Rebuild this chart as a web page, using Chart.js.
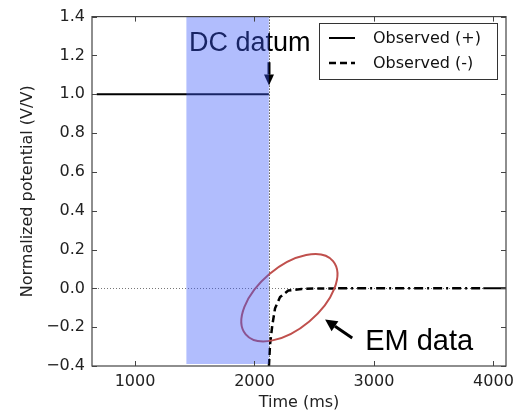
<!DOCTYPE html>
<html>
<head>
<meta charset="utf-8">
<script src="https://cdn.jsdelivr.net/npm/chart.js@4/dist/chart.umd.min.js"></script>
<style>
  html, body { margin: 0; padding: 0; background: #fff; }
  #wrap { width: 527px; height: 415px; }
</style>
</head>
<body>
<div id="wrap"><canvas id="chart" width="527" height="415"></canvas></div>
<script>
// observed (+): flat at 1.0 before the datum, back at 0.0 at the end
var posTime = [680, 2120, null, 3915, 4105];
var posValue = [1.0, 1.0, null, 0.0, 0.0];

// observed (-): the EM decay after the datum
var negTime = [2121, 2130, 2149, 2172, 2214, 2283, 2395, 2500, 2700, 3915];
var negValue = [-0.4, -0.29, -0.19, -0.103, -0.045, -0.011, -0.003, -0.001, 0.0, 0.0];

var seriesLabels = ["Observed (+)", "Observed (-)"];
var xTicks = [1000, 2000, 3000, 4000];
var yTicks = [-0.4, -0.2, 0.0, 0.2, 0.4, 0.6, 0.8, 1.0, 1.2, 1.4];
var xRange = [640, 4105];
var yRange = [-0.4, 1.4];
var shadeRange = [1430, 2120];
var datumTime = 2120;

// annotation anchors (data units)
var dcText = { x: 1960, y: 1.225, text: "DC datum" };
var dcArrow = { x: 2120, from: 1.165, to: 1.045 };
var emText = { x: 2926, y: -0.318, text: "EM data" };
var emArrow = { x0: 2818, y0: -0.256, x1: 2591, y1: -0.16 };
var emEllipse = { x: 2292, y: -0.048 };

function pts(xs, ys) {
  return xs.map(function (x, i) {
    return x === null ? { x: NaN, y: null } : { x: x, y: ys[i] };
  });
}

var FONT = "'DejaVu Sans', sans-serif";
var AXIS = "#444";

function arrow(ctx, x0, y0, x1, y1, head, width) {
  var ang = Math.atan2(y1 - y0, x1 - x0);
  var bx = x1 - Math.cos(ang) * head, by = y1 - Math.sin(ang) * head;
  ctx.beginPath();
  ctx.lineWidth = 3;
  ctx.moveTo(x0, y0);
  ctx.lineTo(bx, by);
  ctx.stroke();
  ctx.beginPath();
  ctx.moveTo(x1, y1);
  ctx.lineTo(bx + Math.sin(ang) * width, by - Math.cos(ang) * width);
  ctx.lineTo(bx - Math.sin(ang) * width, by + Math.cos(ang) * width);
  ctx.closePath();
  ctx.fill();
}

var decor = {
  id: "decor",
  beforeDatasetsDraw: function (chart) {
    var ctx = chart.ctx, a = chart.chartArea;
    var xs = chart.scales.x, ys = chart.scales.y;
    ctx.save();
    ctx.lineWidth = 1;
    ctx.setLineDash([1, 2]);
    ctx.strokeStyle = "#777";
    ctx.beginPath();
    ctx.moveTo(a.left, Math.round(ys.getPixelForValue(0)) + 0.5);
    ctx.lineTo(a.right, Math.round(ys.getPixelForValue(0)) + 0.5);
    ctx.stroke();
    ctx.strokeStyle = "#000";
    ctx.beginPath();
    var vx = Math.round(xs.getPixelForValue(datumTime)) + 0.5;
    ctx.moveTo(vx, a.top);
    ctx.lineTo(vx, a.bottom);
    ctx.stroke();
    ctx.restore();
  },
  afterDatasetsDraw: function (chart) {
    var ctx = chart.ctx, a = chart.chartArea;
    var xs = chart.scales.x, ys = chart.scales.y;
    ctx.save();
    // ellipse
    ctx.strokeStyle = "#c0504d";
    ctx.lineWidth = 2;
    ctx.beginPath();
    ctx.ellipse(xs.getPixelForValue(emEllipse.x), ys.getPixelForValue(emEllipse.y), 57, 31, -40 * Math.PI / 180, 0, Math.PI * 2);
    ctx.stroke();

    // texts
    ctx.fillStyle = "#000";
    ctx.strokeStyle = "#000";
    ctx.font = "27px 'Liberation Sans', Arial, sans-serif";
    ctx.textAlign = "center";
    ctx.textBaseline = "alphabetic";
    ctx.fillText(dcText.text, xs.getPixelForValue(dcText.x), ys.getPixelForValue(dcText.y));
    ctx.textAlign = "left";
    ctx.font = "29px 'Liberation Sans', Arial, sans-serif";
    ctx.fillText(emText.text, xs.getPixelForValue(emText.x), ys.getPixelForValue(emText.y));

    var ax = Math.round(xs.getPixelForValue(dcArrow.x));
    arrow(ctx, ax, ys.getPixelForValue(dcArrow.from), ax, ys.getPixelForValue(dcArrow.to), 11, 5);
    arrow(ctx, xs.getPixelForValue(emArrow.x0), ys.getPixelForValue(emArrow.y0),
      xs.getPixelForValue(emArrow.x1), ys.getPixelForValue(emArrow.y1), 12, 6);

    // shaded region on top
    ctx.fillStyle = "rgba(60, 90, 250, 0.4)";
    var s0 = xs.getPixelForValue(shadeRange[0]), s1 = xs.getPixelForValue(shadeRange[1]);
    ctx.fillRect(s0, a.top, s1 - s0, a.bottom - a.top - 2);

    // frame
    ctx.strokeStyle = AXIS;
    ctx.lineWidth = 1.2;
    ctx.setLineDash([]);
    ctx.strokeRect(a.left, a.top, a.right - a.left, a.bottom - a.top);

    // inward ticks on all sides
    ctx.lineWidth = 1;
    ctx.beginPath();
    xTicks.forEach(function (v) {
      var px = Math.round(xs.getPixelForValue(v)) + 0.5;
      ctx.moveTo(px, a.bottom); ctx.lineTo(px, a.bottom - 5);
      ctx.moveTo(px, a.top); ctx.lineTo(px, a.top + 5);
    });
    yTicks.forEach(function (v) {
      var py = Math.round(ys.getPixelForValue(v)) + 0.5;
      ctx.moveTo(a.left, py); ctx.lineTo(a.left + 5, py);
      ctx.moveTo(a.right, py); ctx.lineTo(a.right - 5, py);
    });
    ctx.stroke();

    // legend
    var lx = 319, ly = 23, lw = 178, lh = 56;
    ctx.fillStyle = "#fff";
    ctx.fillRect(lx, ly, lw, lh);
    ctx.strokeStyle = "#333";
    ctx.strokeRect(lx + 0.5, ly + 0.5, lw, lh);
    ctx.font = "16px " + FONT;
    ctx.fillStyle = "#111";
    ctx.textBaseline = "middle";
    chart.data.datasets.forEach(function (ds, i) {
      if (!ds.inLegend) return;
      var ry = ly + 15 + i * 25;
      ctx.strokeStyle = "#000";
      ctx.lineWidth = ds.borderWidth;
      ctx.setLineDash(ds.borderDash || []);
      ctx.beginPath();
      ctx.moveTo(lx + 10, ry);
      ctx.lineTo(lx + 36, ry);
      ctx.stroke();
      ctx.fillText(ds.label, lx + 54, ry + 1);
    });
    ctx.restore();
  }
};

var fmt = function (v) { return v.toFixed(1).replace("-", "\u2212"); };

new Chart(document.getElementById("chart"), {
  type: "line",
  data: {
    datasets: [
      {
        label: seriesLabels[0],
        inLegend: true,
        data: pts(posTime, posValue),
        borderColor: "#000",
        borderWidth: 2,
        pointRadius: 0,
        spanGaps: false,
        tension: 0
      },
      {
        label: seriesLabels[1],
        inLegend: true,
        data: pts(negTime, negValue),
        borderColor: "#000",
        borderWidth: 2.5,
        borderDash: [7, 4],
        pointRadius: 0,
        tension: 0,
        segment: {
          borderDash: function (c) { return c.p0.parsed.x >= 2700 ? [9, 4, 2, 4] : [7, 4]; }
        }
      }
    ]
  },
  options: {
    animation: false,
    responsive: false,
    devicePixelRatio: 1,
    layout: { padding: { left: 0, top: 14, right: 21, bottom: 0 } },
    plugins: { legend: { display: false }, tooltip: { enabled: false } },
    scales: {
      x: {
        type: "linear",
        min: xRange[0],
        max: xRange[1],
        afterBuildTicks: function (s) { s.ticks = xTicks.map(function (v) { return { value: v }; }); },
        afterFit: function (s) { s.height = 49; },
        grid: { display: false, drawTicks: false },
        border: { display: false },
        ticks: { padding: 6, color: "#222", font: { family: FONT, size: 16 }, maxRotation: 0,
          callback: function (v) { return String(v); } },
        title: { display: true, text: "Time (ms)", color: "#222", font: { family: FONT, size: 16 }, padding: { top: 0, bottom: 3 } }
      },
      y: {
        type: "linear",
        min: yRange[0],
        max: yRange[1],
        afterBuildTicks: function (s) { s.ticks = yTicks.map(function (v) { return { value: v }; }); },
        afterFit: function (s) { s.width = 92; },
        grid: { display: false, drawTicks: false },
        border: { display: false },
        ticks: { padding: 7, color: "#222", font: { family: FONT, size: 16 }, callback: fmt },
        title: { display: true, text: "Normalized potential (V/V)", color: "#222", font: { family: FONT, size: 16 }, padding: { top: 18, bottom: 0 } }
      }
    }
  },
  plugins: [decor]
});
</script>
</body>
</html>
